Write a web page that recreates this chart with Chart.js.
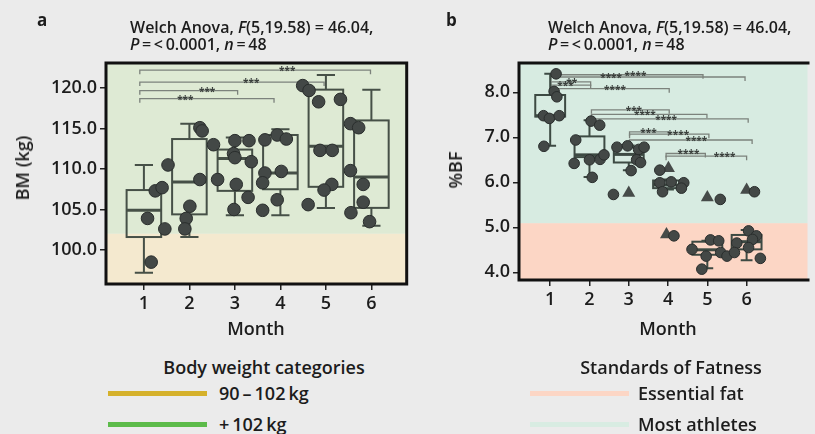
<!DOCTYPE html>
<html lang="en">
<head>
  <meta charset="UTF-8" />
  <title>Body mass and body fat by month</title>
  <script src="https://cdn.jsdelivr.net/npm/chart.js"></script>
  <style>
    * { margin: 0; padding: 0; box-sizing: border-box; }
    body {
      width: 815px; height: 434px; overflow: hidden; position: relative;
      background: #ebebeb; color: #1c1c1c; font-family: "Open Sans", sans-serif;
    }
    canvas { position: absolute; top: 0; }
    #chartA { left: 0; }
    #chartB { left: 412px; }

    .txt { position: absolute; white-space: nowrap; }
    .letter { font-size: 17px; font-weight: 700; line-height: 20px; }
    .stat { font-size: 16px; font-weight: 600; line-height: 17px; }
    .axis-title { font-size: 18px; font-weight: 600; transform: translate(-50%, -50%); }
    .ytitle { transform: translate(-50%, -50%) rotate(-90deg); }
    .leg-title { font-size: 18px; font-weight: 600; transform: translate(-50%, -50%); }
    .leg-text { font-size: 18px; font-weight: 600; transform: translateY(-50%); }
    .leg-line { position: absolute; width: 99px; height: 5px; }
  </style>
</head>
<body>
  <canvas id="chartA" width="414" height="345"></canvas>
  <canvas id="chartB" width="403" height="345"></canvas>

  <div class="txt letter" style="left:37px; top:10px;">a</div>
  <div class="txt stat" style="left:130px; top:19px;">Welch Anova, <i>F</i>(5,19.58) = 46.04,<br><i>P</i>&thinsp;=&thinsp;&lt;&thinsp;0.0001, <i>n</i>&thinsp;=&thinsp;48</div>
  <div class="txt letter" style="left:446px; top:10px;">b</div>
  <div class="txt stat" style="left:548px; top:19px;">Welch Anova, <i>F</i>(5,19.58) = 46.04,<br><i>P</i>&thinsp;=&thinsp;&lt;&thinsp;0.0001, <i>n</i>&thinsp;=&thinsp;48</div>

  <div class="txt axis-title ytitle" style="left:22px; top:168px;">BM (kg)</div>
  <div class="txt axis-title ytitle" style="left:455px; top:170px;">%BF</div>
  <div class="txt axis-title" style="left:256px; top:328px;">Month</div>
  <div class="txt axis-title" style="left:668px; top:328px;">Month</div>

  <div class="txt leg-title" style="left:264px; top:367px;">Body weight categories</div>
  <div class="leg-line" style="left:108px; top:391px; background:#d5b12b;"></div>
  <div class="txt leg-text" style="left:219px; top:393px;">90&thinsp;–&thinsp;102&thinsp;kg</div>
  <div class="leg-line" style="left:108px; top:422px; background:#5cbb4a;"></div>
  <div class="txt leg-text" style="left:219px; top:424px;">+&thinsp;102&thinsp;kg</div>

  <div class="txt leg-title" style="left:671px; top:367px;">Standards of Fatness</div>
  <div class="leg-line" style="left:530px; top:391px; background:#fcd6c5;"></div>
  <div class="txt leg-text" style="left:638px; top:393px;">Essential fat</div>
  <div class="leg-line" style="left:530px; top:422px; background:#d8ece2;"></div>
  <div class="txt leg-text" style="left:638px; top:424px;">Most athletes</div>

  <script>
    const months = [1, 2, 3, 4, 5, 6];

    // panel a - body mass (kg)
    const bmTicks = [100, 105, 110, 115, 120];
    const bmCategoryCut = 102;
    const bmWhiskerLow = [97.2, 101.6, 104.3, 104.3, 105.2, 103.0];
    const bmQ1 = [101.6, 104.4, 107.3, 107.5, 107.8, 105.2];
    const bmMedian = [104.9, 108.4, 111.3, 109.5, 112.8, 109.0];
    const bmQ3 = [107.4, 113.7, 112.4, 114.2, 119.8, 116.0];
    const bmWhiskerHigh = [110.5, 115.6, 113.9, 114.9, 121.6, 119.8];
    // [month (jittered), BM]
    const bmPoints = [
      [1.25, 107.3], [1.40, 107.7], [1.53, 110.5], [1.08, 103.9], [1.46, 102.6], [1.16, 98.5],
      [2.23, 115.1], [2.28, 114.7], [2.23, 108.7], [2.01, 105.4], [1.93, 103.9], [1.90, 102.6],
      [2.53, 113.0], [3.00, 113.5], [3.31, 113.5], [2.97, 111.9], [3.00, 111.4], [3.36, 110.9],
      [2.62, 108.7], [3.03, 108.1], [3.29, 106.5], [2.98, 105.0],
      [3.66, 113.6], [3.93, 114.2], [4.13, 113.7], [3.66, 109.5], [4.02, 109.7], [3.61, 108.3],
      [3.93, 106.2], [3.61, 104.9],
      [4.49, 120.3], [4.63, 119.7], [4.84, 118.3], [5.32, 118.6], [4.87, 112.3], [5.14, 112.3],
      [5.13, 108.1], [4.96, 107.4], [4.61, 105.6],
      [5.54, 115.6], [5.72, 115.1], [5.54, 109.8], [5.82, 108.1], [5.82, 105.9], [5.55, 104.6],
      [5.96, 103.5]
    ];
    // [from month, to month, level, stars, label at month]
    const bmBrackets = [
      [0.91, 5.98, 122.2, '***', 4.15],
      [0.91, 4.96, 120.74, '***', 3.36],
      [0.91, 3.06, 119.67, '***', 2.39],
      [0.91, 3.86, 118.68, '***', 1.91]
    ];

    // panel b - body fat (%)
    const bfTicks = [4.0, 5.0, 6.0, 7.0, 8.0];
    const bfEssentialCut = 5.09;
    const bfWhiskerLow = [6.81, 6.12, 6.27, 5.84, 4.09, 4.27];
    const bfQ1 = [7.46, 6.56, 6.44, 5.87, 4.39, 4.51];
    const bfMedian = [7.48, 6.61, 6.62, 5.94, 4.50, 4.68];
    const bfQ3 = [7.94, 7.02, 6.78, 6.04, 4.68, 4.83];
    const bfWhiskerHigh = [8.41, 7.38, 6.82, 6.06, 4.70, 4.94];
    const bfPoints = [
      [1.15, 8.41], [1.10, 8.02], [1.17, 7.90], [0.83, 7.48], [0.98, 7.42], [1.23, 7.48], [0.84, 6.80],
      [2.04, 7.36], [2.26, 7.27], [1.65, 6.94], [1.61, 6.42], [2.00, 6.50], [2.27, 6.51], [2.37, 6.61],
      [2.07, 6.11],
      [2.70, 6.78], [2.97, 6.81], [3.25, 6.73], [3.39, 6.78], [3.20, 6.50], [3.30, 6.44], [3.06, 6.26],
      [2.61, 5.73],
      [3.79, 6.27], [3.79, 5.99], [4.08, 6.01], [4.40, 5.99], [4.34, 5.87], [3.86, 5.79], [4.15, 4.81],
      [5.33, 5.62], [4.61, 4.51], [5.08, 4.72], [5.29, 4.70], [5.34, 4.44], [4.97, 4.36], [5.50, 4.36],
      [4.86, 4.07],
      [6.20, 5.79], [6.05, 4.92], [6.25, 4.81], [5.75, 4.65], [6.15, 4.73], [6.05, 4.55], [5.69, 4.44],
      [6.35, 4.31]
    ];
    const bfTriangles = [[3.00, 5.76], [4.01, 6.31], [3.96, 4.84], [5.00, 5.66], [6.00, 5.83]];
    const bfBrackets = [
      [1.02, 4.89, 8.39, '****', 3.17],
      [1.02, 5.96, 8.34, '****', 2.55],
      [1.02, 2.03, 8.23, '**', 1.55],
      [1.02, 2.03, 8.16, '***', 1.39],
      [1.02, 4.03, 8.08, '****', 2.65],
      [2.05, 4.03, 7.61, '***', 3.13],
      [2.05, 4.99, 7.51, '****', 3.41],
      [2.05, 6.04, 7.41, '****', 3.95],
      [3.02, 4.01, 7.12, '***', 3.50],
      [3.02, 5.04, 7.07, '****', 4.26],
      [3.02, 6.14, 6.94, '****', 4.72],
      [3.95, 4.95, 6.64, '****', 4.52],
      [3.95, 6.00, 6.58, '****', 5.44]
    ];

    const FONT = '"Open Sans", sans-serif';

    // bands, brackets, box plots and frame
    const panelPlugin = {
      id: 'panel',
      beforeDatasetsDraw(chart, args, o) {
        const { ctx, chartArea: area, scales: { x, y } } = chart;
        ctx.save();

        const cut = y.getPixelForValue(o.cut);
        ctx.fillStyle = o.upperColor;
        ctx.fillRect(area.left, area.top, area.width, cut - area.top);
        ctx.fillStyle = o.lowerColor;
        ctx.fillRect(area.left, cut, area.width, area.bottom - cut);

        ctx.strokeStyle = o.bracketColor;
        ctx.lineWidth = 1.3;
        ctx.fillStyle = '#3b403d';
        ctx.font = 'bold 10px ' + FONT;
        ctx.textAlign = 'center';
        o.brackets.forEach(([from, to, level, stars, at]) => {
          const x0 = x.getPixelForValue(from), x1 = x.getPixelForValue(to);
          const yy = y.getPixelForValue(level);
          ctx.beginPath();
          ctx.moveTo(x0, yy + 4); ctx.lineTo(x0, yy); ctx.lineTo(x1, yy); ctx.lineTo(x1, yy + 4);
          ctx.stroke();
          ctx.fillText(stars, x.getPixelForValue(at), yy + 4);
        });

        ctx.strokeStyle = o.boxColor;
        months.forEach((m, i) => {
          const cx = x.getPixelForValue(m);
          const hw = x.getPixelForValue(m + o.halfWidth) - cx;
          const cw = x.getPixelForValue(m + o.capWidth) - cx;
          const lo = y.getPixelForValue(o.low[i]), q1 = y.getPixelForValue(o.q1[i]);
          const md = y.getPixelForValue(o.median[i]), q3 = y.getPixelForValue(o.q3[i]);
          const hi = y.getPixelForValue(o.high[i]);
          ctx.lineWidth = 2;
          ctx.beginPath();
          ctx.moveTo(cx, q3); ctx.lineTo(cx, hi);
          ctx.moveTo(cx - cw, hi); ctx.lineTo(cx + cw, hi);
          ctx.moveTo(cx, q1); ctx.lineTo(cx, lo);
          ctx.moveTo(cx - cw, lo); ctx.lineTo(cx + cw, lo);
          ctx.stroke();
          ctx.strokeRect(cx - hw, q3, 2 * hw, q1 - q3);
          ctx.lineWidth = 3;
          ctx.beginPath();
          ctx.moveTo(cx - hw, md); ctx.lineTo(cx + hw, md);
          ctx.stroke();
        });
        ctx.restore();
      },
      afterDraw(chart, args, o) {
        const { ctx, chartArea: a } = chart;
        ctx.save();
        ctx.strokeStyle = '#111';
        ctx.lineWidth = 3;
        ctx.beginPath();
        if (o.openRight) {
          ctx.moveTo(a.right + 2, a.top); ctx.lineTo(a.left, a.top);
          ctx.lineTo(a.left, a.bottom); ctx.lineTo(a.right + 2, a.bottom);
        } else {
          ctx.rect(a.left, a.top, a.width, a.height);
        }
        ctx.stroke();
        ctx.restore();
      }
    };

    function axisStyle(extra) {
      return Object.assign({
        type: 'linear',
        border: { display: false },
        grid: { drawOnChartArea: false, drawTicks: true, tickLength: 6, color: '#222', lineWidth: 1.5 },
        ticks: { font: { family: FONT, size: 18, weight: '600' }, color: '#1c1c1c', autoSkip: false, maxRotation: 0 }
      }, extra);
    }

    function panel(canvasId, o) {
      return new Chart(document.getElementById(canvasId), {
        type: 'scatter',
        data: { datasets: o.datasets },
        options: {
          responsive: false,
          animation: false,
          layout: { padding: { top: 63, right: o.padRight, left: 0, bottom: 0 } },
          plugins: { legend: { display: false }, tooltip: { enabled: false }, panel: o.panel },
          scales: {
            x: axisStyle({
              min: o.xMin, max: o.xMax,
              afterBuildTicks: s => { s.ticks = months.map(v => ({ value: v })); },
              afterFit: s => { s.height = o.xAxisHeight; }
            }),
            y: axisStyle({
              min: o.yMin, max: o.yMax,
              afterBuildTicks: s => { s.ticks = o.yTicks.map(v => ({ value: v })); },
              afterFit: s => { s.width = o.yAxisWidth; }
            })
          }
        },
        plugins: [panelPlugin]
      });
    }
    // y ticks need one decimal
    Chart.defaults.scales.linear.ticks.callback = function (v) {
      return this.axis === 'y' ? Number(v).toFixed(1) : v;
    };

    const dot = { pointStyle: 'circle', backgroundColor: '#434846', borderColor: '#2a2e2d', borderWidth: 1 };
    const toXY = arr => arr.map(([x, y]) => ({ x, y }));

    panel('chartA', {
      xMin: 0.167, xMax: 6.776, yMin: 95.8, yMax: 123.09,
      yTicks: bmTicks, padRight: 4, xAxisHeight: 61, yAxisWidth: 106,
      datasets: [Object.assign({ data: toXY(bmPoints), pointRadius: 6.3 }, dot)],
      panel: {
        cut: bmCategoryCut, upperColor: '#deead4', lowerColor: '#f4e9cf',
        bracketColor: '#7c827c', boxColor: '#465047',
        halfWidth: 0.38, capWidth: 0.2,
        low: bmWhiskerLow, q1: bmQ1, median: bmMedian, q3: bmQ3, high: bmWhiskerHigh,
        brackets: bmBrackets, openRight: false
      }
    });

    panel('chartB', {
      xMin: 0.206, xMax: 7.55, yMin: 3.829, yMax: 8.651,
      yTicks: bfTicks, padRight: 0, xAxisHeight: 65, yAxisWidth: 107,
      datasets: [
        Object.assign({ data: toXY(bfPoints), pointRadius: 5.3 }, dot),
        { data: toXY(bfTriangles), pointStyle: 'triangle', pointRadius: 7.5, backgroundColor: '#464b49', borderColor: '#464b49', borderWidth: 0 }
      ],
      panel: {
        cut: bfEssentialCut, upperColor: '#d7ebe1', lowerColor: '#fcd6c5',
        bracketColor: '#7c827c', boxColor: '#3d4a43',
        halfWidth: 0.38, capWidth: 0.15,
        low: bfWhiskerLow, q1: bfQ1, median: bfMedian, q3: bfQ3, high: bfWhiskerHigh,
        brackets: bfBrackets, openRight: true
      }
    });
  </script>
</body>
</html>
